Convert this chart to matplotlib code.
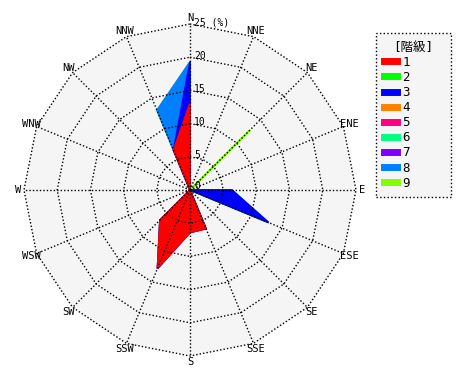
import numpy as np
import matplotlib
matplotlib.use("Agg")
import matplotlib.pyplot as plt
from matplotlib.lines import Line2D

plt.rcParams["font.family"] = ["DejaVu Sans Mono", "Noto Sans CJK JP"]

# 16 directions, clockwise from north
directions = ["N", "NNE", "NE", "ENE", "E", "ESE", "SE", "SSE",
              "S", "SSW", "SW", "WSW", "W", "WNW", "NW", "NNW"]

class_labels = ["1", "2", "3", "4", "5", "6", "7", "8", "9"]
class_colors = ["#ff0000", "#00ff00", "#0000ff", "#ff8000", "#ff0080",
                "#00ff80", "#8000ff", "#0080ff", "#80ff00"]

# frequency (%) per class and direction
c1 = [13.1, 0, 0, 0, 0, 0, 0, 6.3, 6.4, 12.8, 6.4, 0, 0, 0, 0, 6.5]
c2 = [0] * 16
c3 = [6.2, 0, 0, 0, 6.3, 12.8, 0, 0, 0, 0, 0, 0, 0, 0, 0, 0]
c4 = [0] * 16
c5 = [0] * 16
c6 = [0] * 16
c7 = [0] * 16
c8 = [0, 0, 0, 0, 0, 0, 0, 0, 0, 0, 0, 0, 0, 0, 0, 6.5]
c9 = [0, 0, 12.8, 0, 0, 0, 0, 0, 0, 0, 0, 0, 0, 0, 0, 0]

rings = [5, 10, 15, 20, 25]
ring_labels = ["5", "10", "15", "20", "25 (%)"]

theta = np.deg2rad(np.arange(16) * 22.5)
sx, sy = np.sin(theta), np.cos(theta)

fig = plt.figure(figsize=(4.7, 3.8), dpi=100)
ax = fig.add_axes([10 / 470, 10 / 380, 360 / 470, 360 / 380])
lim = 180 / 6.64
ax.set_xlim(-lim, lim)
ax.set_ylim(-lim, lim)
ax.set_aspect("equal")
ax.axis("off")

# background
R = rings[-1]
ax.fill(R * sx, R * sy, color="#f5f5f5", zorder=0)

# stacked polygons, outermost first
data = np.array([c1, c2, c3, c4, c5, c6, c7, c8, c9], dtype=float)
cum = np.cumsum(data, axis=0)
for i in range(len(data) - 1, -1, -1):
    if data[i].sum() == 0:
        continue
    r = cum[i]
    ax.fill(r * sx, r * sy, facecolor=class_colors[i],
            edgecolor=class_colors[i], linewidth=1.2, zorder=2)

# grid
for rr in rings:
    ax.plot(np.append(rr * sx, rr * sx[0]), np.append(rr * sy, rr * sy[0]),
            color="black", linestyle=(0, (1, 1.5)), linewidth=1, zorder=3)
for x, y in zip(sx, sy):
    ax.plot([0, R * x], [0, R * y], color="black",
            linestyle=(0, (1, 1.5)), linewidth=1, zorder=3)

# direction labels
lr = 25.9
for d, x, y in zip(directions, sx, sy):
    ax.text(lr * x, lr * y, d, ha="center", va="center", fontsize=7.5)

# ring labels
ax.text(0.6, 0.6, "0", ha="left", va="center", fontsize=7)
for rr, lab in zip(rings, ring_labels):
    ax.text(0.6, rr + 0.2, lab, ha="left", va="center", fontsize=7)

handles = [Line2D([0], [0], color=c, linewidth=5) for c in class_colors]
leg = fig.legend(handles, class_labels, title="[階級]",
                 loc="upper left",
                 bbox_to_anchor=(376 / 470, 1 - 195 / 380, 75 / 470, 162 / 380),
                 mode="expand", borderaxespad=0, fontsize=9, title_fontsize=9,
                 handlelength=1.1, handletextpad=0.4, labelspacing=0.17,
                 borderpad=0.6, fancybox=False, framealpha=1)
leg.get_frame().set_facecolor("#f5f5f5")
leg.get_frame().set_edgecolor("black")
leg.get_frame().set_linestyle(":")
leg.get_title().set_ha("center")

fig.savefig("out.png", dpi=100)
